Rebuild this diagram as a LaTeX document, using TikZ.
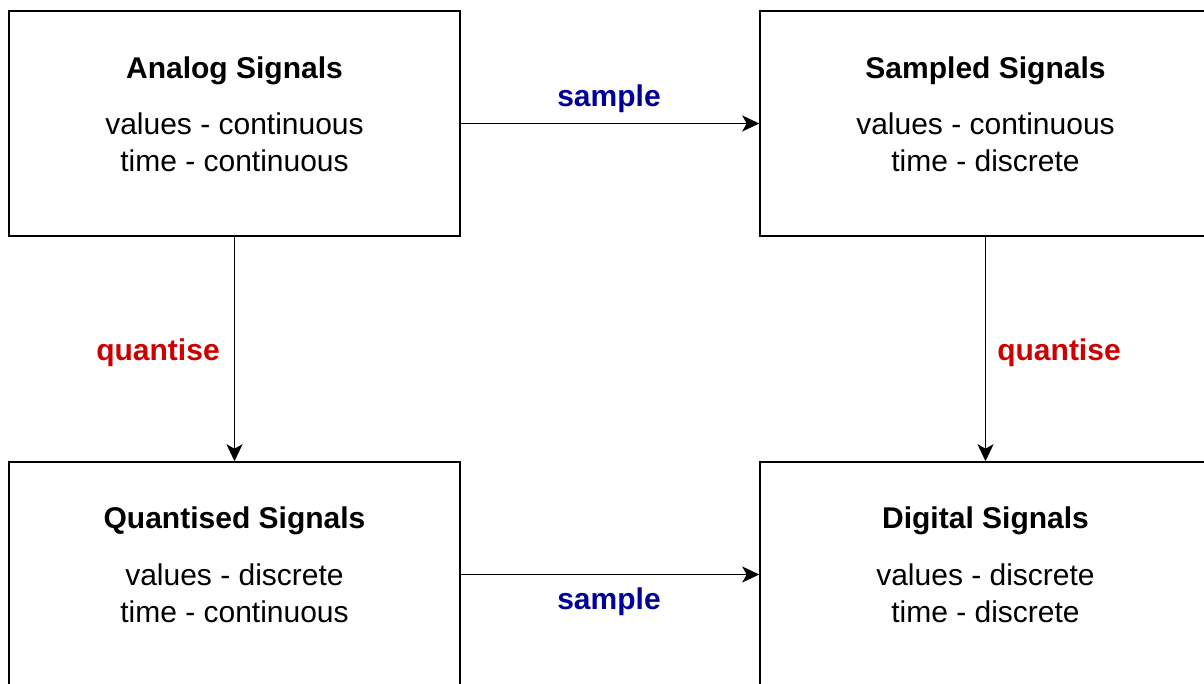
\documentclass[tikz,border=0pt]{standalone}
\usepackage{fontspec}
\setmainfont{Liberation Sans}
\usepackage{xcolor}
\usetikzlibrary{arrows.meta,positioning}
\definecolor{sampleblue}{HTML}{000099}
\definecolor{quantred}{HTML}{CC0000}

\begin{document}
\begin{tikzpicture}[x=0.5pt,y=-0.5pt,
  sigbox/.style={draw,line width=0.75pt,minimum width=225.5pt,minimum height=112.5pt,inner sep=0pt},
  heading/.style={font=\fontsize{15}{18}\selectfont\bfseries},
  props/.style={font=\fontsize{15}{18.5}\selectfont,align=center},
  conv/.style={-{Stealth[length=8.5pt,width=8pt,inset=2.2pt]},line width=0.8pt},
  sampletxt/.style={font=\fontsize{15}{18}\selectfont\bfseries,text=sampleblue},
  quanttxt/.style={font=\fontsize{15}{18}\selectfont\bfseries,text=quantred}]
\useasboundingbox (0,0) rectangle (1204,684);
\clip (0,0) rectangle (1204,684);

\node[sigbox] (analog) at (234.5,123.5) {};
\node[sigbox] (sampled) at (985.5,123.5) {};
\node[sigbox] (quantised) at (234.5,574.5) {};
\node[sigbox] (digital) at (985.5,574.5) {};

\node[heading] (analog_head) at (234.5,71) {Analog Signals};
\node[props] (analog_props) at (234.5,142) {values - continuous\\time - continuous};
\node[heading] (sampled_head) at (985.5,71) {Sampled Signals};
\node[props] (sampled_props) at (985.5,142) {values - continuous\\time - discrete};
\node[heading] (quantised_head) at (234.5,521) {Quantised Signals};
\node[props] (quantised_props) at (234.5,593) {values - discrete\\time - continuous};
\node[heading] (digital_head) at (985.5,521) {Digital Signals};
\node[props] (digital_props) at (985.5,593) {values - discrete\\time - discrete};

\draw[conv] (analog) -- (sampled);
\draw[conv] (quantised) -- (digital);
\draw[conv] (analog) -- (quantised);
\draw[conv] (sampled) -- (digital);

\node[sampletxt] (sample_top) at (609,99) {sample};
\node[sampletxt] (sample_bottom) at (609,602) {sample};
\node[quanttxt] (quantise_left) at (158,353) {quantise};
\node[quanttxt] (quantise_right) at (1059,353) {quantise};
\end{tikzpicture}
\end{document}
